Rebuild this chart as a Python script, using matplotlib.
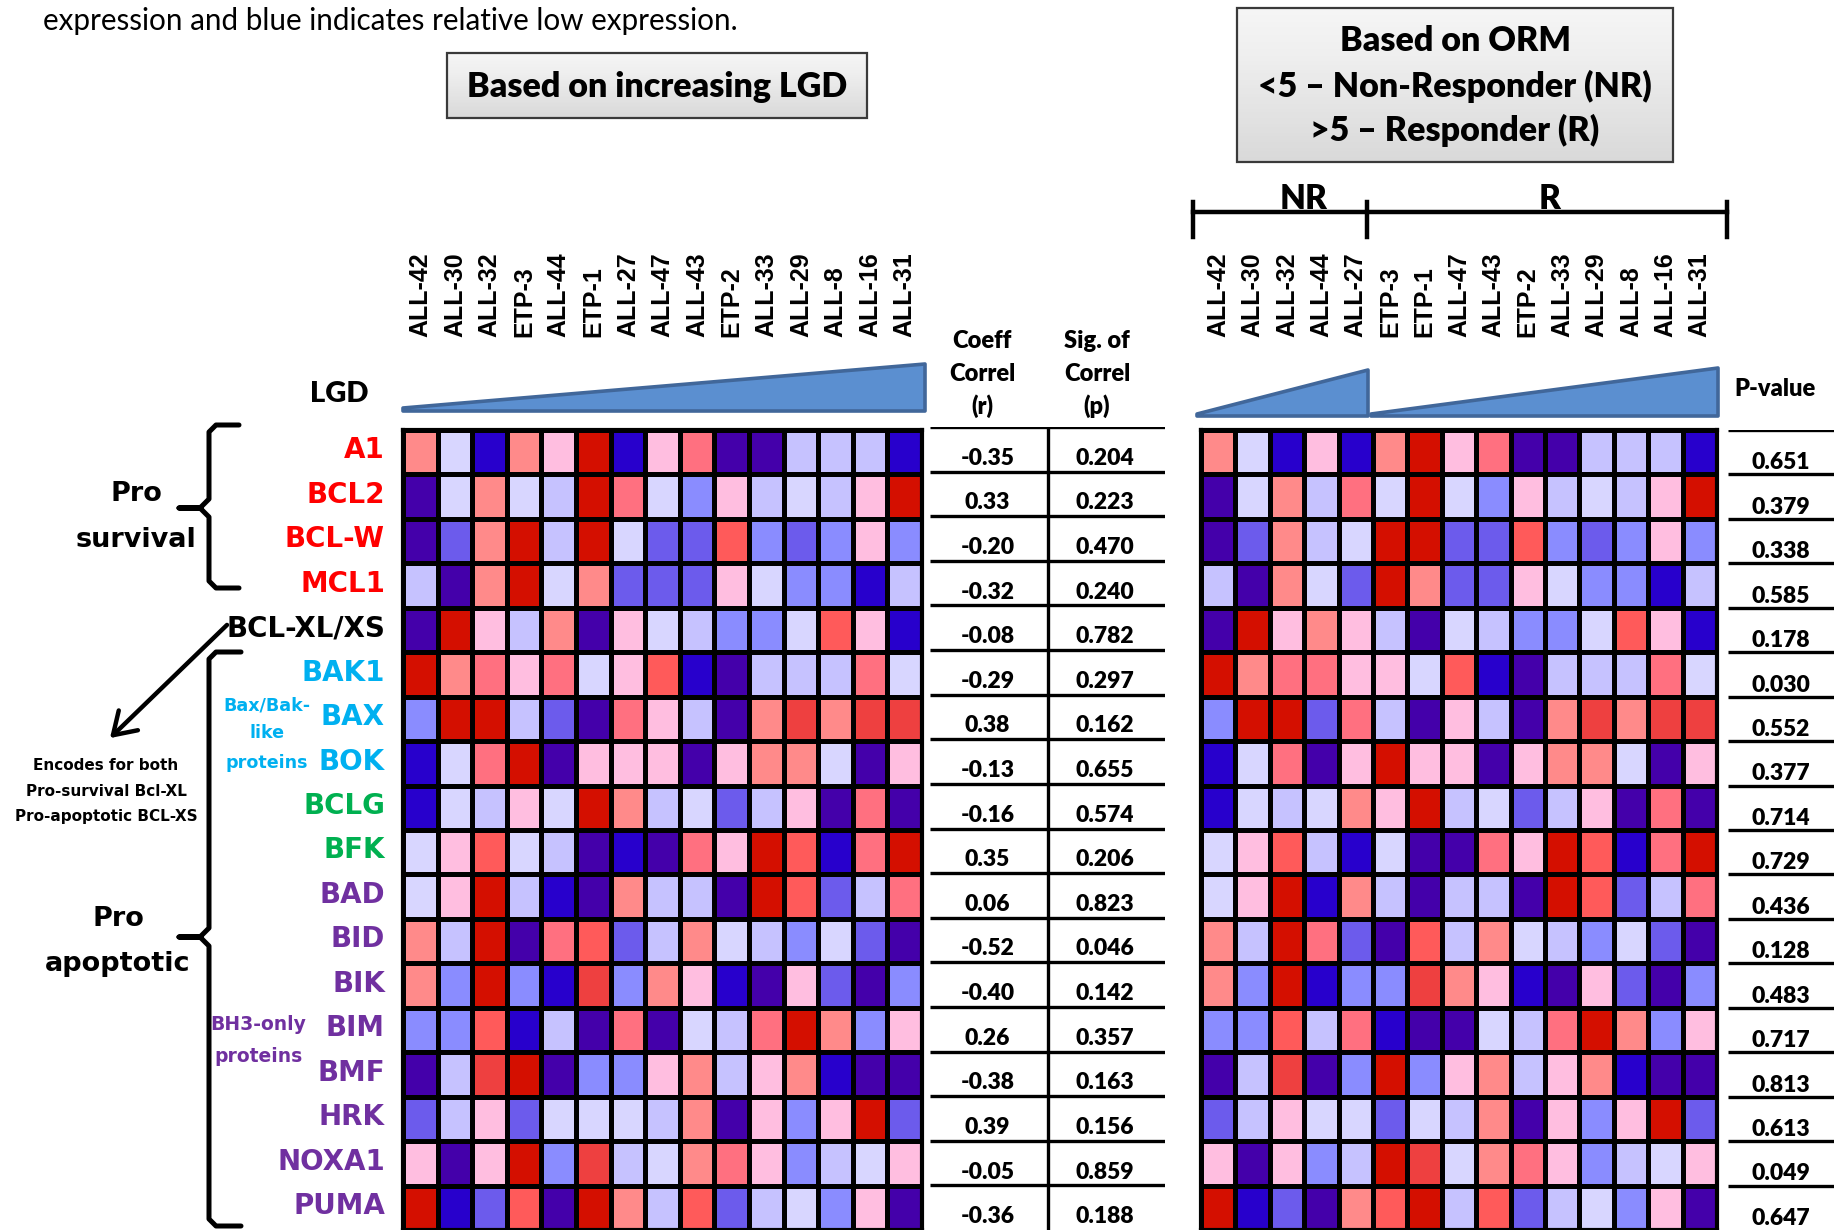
"""
Bcl-2 family expression heatmaps: ordered by LGD (left) and by ORM response (right)
"""

import numpy as np
import matplotlib
matplotlib.use("Agg")
import matplotlib.pyplot as plt
from matplotlib.colors import ListedColormap
from matplotlib.patches import Rectangle, Polygon
from matplotlib.transforms import ScaledTranslation

# ---- data -------------------------------------------------------------
genes = ["A1", "BCL2", "BCL-W", "MCL1", "BCL-XL/XS", "BAK1", "BAX", "BOK",
         "BCLG", "BFK", "BAD", "BID", "BIK", "BIM", "BMF", "HRK", "NOXA1", "PUMA"]
gene_colors = ["#FF0000"] * 4 + ["#000000"] + ["#00B0F0"] * 3 + ["#00B050"] * 2 + ["#7030A0"] * 8

# sample order by increasing LGD
lgd_order = ["ALL-42", "ALL-30", "ALL-32", "ETP-3", "ALL-44", "ETP-1", "ALL-27", "ALL-47",
             "ALL-43", "ETP-2", "ALL-33", "ALL-29", "ALL-8", "ALL-16", "ALL-31"]
# sample order by ORM group (NR first, then R)
orm_order = ["ALL-42", "ALL-30", "ALL-32", "ALL-44", "ALL-27", "ETP-3", "ETP-1", "ALL-47",
             "ALL-43", "ETP-2", "ALL-33", "ALL-29", "ALL-8", "ALL-16", "ALL-31"]
n_nr = 5

# relative expression level, 0 = lowest (blue/purple) ... 11 = highest (dark red)
# columns follow lgd_order
expr = [
    [7, 5, 1, 7, 6, 11, 1, 6, 8, 0, 0, 4, 4, 4, 1],
    [0, 5, 7, 5, 4, 11, 8, 5, 3, 6, 4, 5, 4, 6, 11],
    [0, 2, 7, 11, 4, 11, 5, 2, 2, 9, 3, 2, 3, 6, 3],
    [4, 0, 7, 11, 5, 7, 2, 2, 2, 6, 5, 3, 3, 1, 4],
    [0, 11, 6, 4, 7, 0, 6, 5, 4, 3, 3, 5, 9, 6, 1],
    [11, 7, 8, 6, 8, 5, 6, 9, 1, 0, 4, 4, 4, 8, 5],
    [3, 11, 11, 4, 2, 0, 8, 6, 4, 0, 7, 10, 7, 10, 10],
    [1, 5, 8, 11, 0, 6, 6, 6, 0, 6, 7, 7, 5, 0, 6],
    [1, 5, 4, 6, 5, 11, 7, 4, 5, 2, 4, 6, 0, 8, 0],
    [5, 6, 9, 5, 4, 0, 1, 0, 8, 6, 11, 9, 1, 8, 11],
    [5, 6, 11, 4, 1, 0, 7, 4, 4, 0, 11, 9, 2, 4, 8],
    [7, 4, 11, 0, 8, 9, 2, 4, 7, 5, 4, 3, 5, 2, 0],
    [7, 3, 11, 3, 1, 10, 3, 7, 6, 1, 0, 6, 2, 0, 3],
    [3, 3, 9, 1, 4, 0, 8, 0, 5, 4, 8, 11, 7, 3, 6],
    [0, 4, 10, 11, 0, 3, 3, 6, 7, 4, 6, 7, 1, 0, 0],
    [2, 4, 6, 2, 5, 5, 5, 4, 7, 0, 6, 3, 6, 11, 2],
    [6, 0, 6, 11, 3, 10, 4, 5, 7, 8, 6, 3, 4, 5, 6],
    [11, 1, 2, 9, 0, 11, 7, 4, 9, 2, 4, 5, 3, 6, 0],
]

coeff_r = ["-0.35", "0.33", "-0.20", "-0.32", "-0.08", "-0.29", "0.38", "-0.13", "-0.16",
           "0.35", "0.06", "-0.52", "-0.40", "0.26", "-0.38", "0.39", "-0.05", "-0.36"]
sig_p = ["0.204", "0.223", "0.470", "0.240", "0.782", "0.297", "0.162", "0.655", "0.574",
         "0.206", "0.823", "0.046", "0.142", "0.357", "0.163", "0.156", "0.859", "0.188"]
orm_p = ["0.651", "0.379", "0.338", "0.585", "0.178", "0.030", "0.552", "0.377", "0.714",
         "0.729", "0.436", "0.128", "0.483", "0.717", "0.813", "0.613", "0.049", "0.647"]

palette = ["#4400AA", "#2800CC", "#6C5BEC", "#8A8CFF", "#C6C2FF", "#D8D6FF",
           "#FFBEE0", "#FF8A8A", "#FF7080", "#FF5A5A", "#EE4040", "#D40F00"]

# ---- layout -------------------------------------------------------------
W, H = 1843, 1230
fig = plt.figure(figsize=(W / 100, H / 100), dpi=100)


def fax(x0, y0, x1, y1):
    # axes from pixel box (top-left origin)
    return fig.add_axes([x0 / W, 1 - y1 / H, (x1 - x0) / W, (y1 - y0) / H])


ov = fax(0, 0, W, H)
ov.set_xlim(0, W)
ov.set_ylim(H, 0)
ov.axis("off")

HM_TOP, HM_BOT = 430, 1230
LEFT_X = (403, 922)
RIGHT_X = (1201, 1717)
cmap = ListedColormap(palette)
expr_arr = np.array(expr)
expr_orm = expr_arr[:, [lgd_order.index(s) for s in orm_order]]
CALIBRI = "Lato"
BOLD = "heavy"
VERDANA = "DejaVu Sans"


def heatmap(ax, data, samples):
    ax.pcolormesh(data, cmap=cmap, vmin=-0.5, vmax=len(palette) - 0.5,
                  edgecolors="black", linewidth=2.2)
    ax.set_xlim(0, data.shape[1])
    ax.set_ylim(data.shape[0], 0)
    ax.set_xticks(np.arange(len(samples)) + 0.5)
    ax.set_xticklabels(samples, rotation=90, fontsize=18, fontweight="bold",
                       family="Liberation Sans")
    ax.xaxis.set_ticks_position("top")
    ax.tick_params(axis="x", length=0, pad=67)
    for s in ax.spines.values():
        s.set_linewidth(3)


ax_l = fax(LEFT_X[0], HM_TOP, LEFT_X[1], HM_BOT)
heatmap(ax_l, expr_arr, lgd_order)
ax_l.set_yticks(np.arange(len(genes)) + 0.5)
ax_l.set_yticklabels(genes, fontsize=20, fontweight="bold", family=VERDANA)
ax_l.tick_params(axis="y", length=0, pad=13)
lift = ScaledTranslation(0, 3.4 / 72, fig.dpi_scale_trans)
for lab, c in zip(ax_l.get_yticklabels(), gene_colors):
    lab.set_color(c)
    lab.set_transform(lab.get_transform() + lift)

ax_r = fax(RIGHT_X[0], HM_TOP, RIGHT_X[1], HM_BOT)
heatmap(ax_r, expr_orm, orm_order)
ax_r.set_yticks([])

# correlation table
ax_t = fax(930, HM_TOP - 3, 1165, HM_BOT)
ax_t.set_xlim(0, 2)
ax_t.set_ylim(len(genes), 0)
ax_t.axis("off")
ax_t.hlines(np.arange(len(genes)), 0, 2, color="black", lw=2.4)
ax_t.vlines(1.0, 0, len(genes), color="black", lw=2.4)
for i, (r, p) in enumerate(zip(coeff_r, sig_p)):
    ax_t.text(0.49, i + 0.7, r, ha="center", va="center", fontsize=16.5,
              fontweight=BOLD, family=CALIBRI)
    ax_t.text(1.49, i + 0.7, p, ha="center", va="center", fontsize=16.5,
              fontweight=BOLD, family=CALIBRI)

ax_p = fax(1728, HM_TOP, 1834, HM_BOT)
ax_p.set_xlim(0, 1)
ax_p.set_ylim(len(genes), 0)
ax_p.axis("off")
ax_p.hlines(np.arange(len(genes)), 0, 1, color="black", lw=2.4)
for i, p in enumerate(orm_p):
    ax_p.text(0.5, i + 0.74, p, ha="center", va="center", fontsize=16.5,
              fontweight=BOLD, family=CALIBRI)

# ---- headers ----------------------------------------------------------
ov.text(43, 21, "expression and blue indicates relative low expression.",
        fontsize=21.3, family=CALIBRI, va="center")


def grad_box(x0, y0, x1, y1):
    grad = np.linspace(0, 1, 64).reshape(-1, 1)
    ov.imshow(grad, extent=(x0, x1, y1, y0), cmap=ListedColormap(
        plt.cm.Greys(np.linspace(0.08, 0.25, 64))), aspect="auto", zorder=1)
    ov.add_patch(Rectangle((x0, y0), x1 - x0, y1 - y0, fill=False,
                           ec="#3A3A3A", lw=1.6, zorder=2))


grad_box(447, 53, 867, 118)
ov.text(657, 87, "Based on increasing LGD", ha="center", va="center",
        fontsize=24.5, fontweight=BOLD, family=CALIBRI, zorder=3)

grad_box(1237, 8, 1673, 162)
for y, t in zip([41, 86, 130], ["Based on ORM", "<5 – Non-Responder (NR)",
                                ">5 – Responder (R)"]):
    ov.text(1455, y, t, ha="center", va="center", fontsize=24.5,
            fontweight=BOLD, family=CALIBRI, zorder=3)

# NR / R bracket
x_nr0 = RIGHT_X[0] - 8
x_split = RIGHT_X[0] + (RIGHT_X[1] - RIGHT_X[0]) * n_nr / len(orm_order) - 6
x_r1 = RIGHT_X[1] + 10
ov.plot([x_nr0, x_r1], [212, 212], color="black", lw=3.2)
for x in (x_nr0, x_split, x_r1):
    ov.plot([x, x], [202, 237], color="black", lw=3.2)
ov.text((x_nr0 + x_split) / 2 + 24, 199, "NR", ha="center", va="center",
        fontsize=24, fontweight=BOLD, family=CALIBRI)
ov.text((x_split + x_r1) / 2 + 3, 199, "R", ha="center", va="center",
        fontsize=24, fontweight=BOLD, family=CALIBRI)

# increasing wedges
wedge_kw = dict(fc="#5B8FD0", ec="#41679A", lw=2.6, joinstyle="round")
ov.add_patch(Polygon([(LEFT_X[0], 408), (LEFT_X[1] + 3, 364),
                      (LEFT_X[1] + 3, 411), (LEFT_X[0], 411)], **wedge_kw))
ov.add_patch(Polygon([(1197, 414), (1368, 370), (1368, 416), (1197, 416)], **wedge_kw))
ov.add_patch(Polygon([(1371, 414), (1718, 368), (1718, 416), (1371, 416)], **wedge_kw))

ov.text(368, 394, "LGD", ha="right", va="center", fontsize=21,
        fontweight=BOLD, family=CALIBRI)

for y, t in zip([341, 374, 406], ["Coeff", "Correl", "(r)"]):
    ov.text(982, y, t, ha="center", va="center", fontsize=17,
            fontweight=BOLD, family=CALIBRI)
for y, t in zip([341, 374, 406], ["Sig. of", "Correl", "(p)"]):
    ov.text(1097, y, t, ha="center", va="center", fontsize=17,
            fontweight=BOLD, family=CALIBRI)
ov.text(1775, 389, "P-value", ha="center", va="center", fontsize=17,
        fontweight=BOLD, family=CALIBRI)

# ---- left annotations -------------------------------------------------------


def brace(x, y0, y1, ytip, xtip, xhook):
    pts = [(xhook, y0), (x + 7, y0), (x, y0 + 7), (x, ytip - 9), (x - 9, ytip),
           (xtip, ytip), (x - 9, ytip), (x, ytip + 9), (x, y1 - 7), (x + 7, y1),
           (xhook, y1)]
    xs, ys = zip(*pts)
    ov.plot(xs, ys, color="black", lw=3.6, solid_joinstyle="round",
            solid_capstyle="round")


brace(209, 425, 588, 508, 179, 239)
brace(209, 652, 1226, 937, 179, 241)

ov.text(136, 494, "Pro", ha="center", va="center", fontsize=19.5,
        fontweight="bold", family=VERDANA)
ov.text(136, 540, "survival", ha="center", va="center", fontsize=19.5,
        fontweight="bold", family=VERDANA)
ov.text(118, 919, "Pro", ha="center", va="center", fontsize=19.5,
        fontweight="bold", family=VERDANA)
ov.text(118, 964, "apoptotic", ha="center", va="center", fontsize=19.5,
        fontweight="bold", family=VERDANA)

ov.annotate("", xy=(108, 740), xytext=(229, 623),
            arrowprops=dict(arrowstyle="->,head_length=0.7,head_width=0.45",
                            lw=3.2, color="black", mutation_scale=22))
for y, t in zip([765, 791, 816], ["Encodes for both", "Pro-survival Bcl-XL",
                                  "Pro-apoptotic BCL-XS"]):
    ov.text(106, y, t, ha="center", va="center", fontsize=11,
            fontweight="bold", family=VERDANA)

for y, t in zip([706, 733, 763], ["Bax/Bak-", "like", "proteins"]):
    ov.text(267, y, t, ha="center", va="center", fontsize=12.6,
            fontweight="bold", family=VERDANA, color="#00B0F0")
for y, t in zip([1024, 1056], ["BH3-only", "proteins"]):
    ov.text(258, y, t, ha="center", va="center", fontsize=13.5,
            fontweight="bold", family=VERDANA, color="#7030A0")

fig.savefig("out.png", dpi=100)
